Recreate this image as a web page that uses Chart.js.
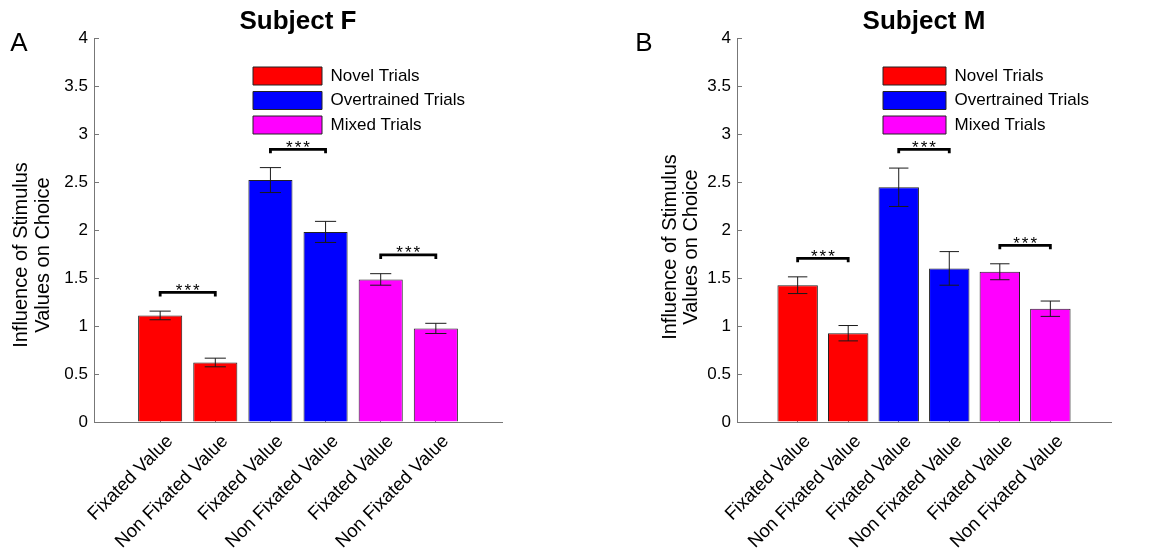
<!DOCTYPE html>
<html>
<head>
<meta charset="utf-8">
<script src="https://cdn.jsdelivr.net/npm/chart.js@4.4.1/dist/chart.umd.min.js"></script>
<style>
  body { margin: 0; background: #fff; }
  canvas { position: absolute; top: 0; }
</style>
</head>
<body>
<canvas id="chartF" width="575" height="553" style="left:0"></canvas>
<canvas id="chartM" width="576" height="553" style="left:575px"></canvas>
<script>
const categories = ['Fixated Value', 'Non Fixated Value', 'Fixated Value', 'Non Fixated Value', 'Fixated Value', 'Non Fixated Value']
const positions = [1, 2, 3, 4, 5, 6]
const groups = ['Novel Trials', 'Overtrained Trials', 'Mixed Trials']
const yTicks = [0, 0.5, 1, 1.5, 2, 2.5, 3, 3.5, 4]
const sigPairs = [[1, 2], [3, 4], [5, 6]]

// Subject F
const valuesF = [1.11, 0.62, 2.52, 1.98, 1.485, 0.975]
const errorsF = [0.045, 0.045, 0.13, 0.11, 0.06, 0.053]
const sigLevelsF = [1.35, 2.84, 1.74]

// Subject M
const valuesM = [1.425, 0.925, 2.445, 1.6, 1.565, 1.18]
const errorsM = [0.087, 0.08, 0.2, 0.175, 0.083, 0.08]
const sigLevelsM = [1.705, 2.84, 1.84]

const colors = ['#ff0000', '#0000ff', '#ff00ff']
const axisColor = '#777'
const family = '"Liberation Sans", Arial, sans-serif'

Chart.defaults.font.family = family
Chart.defaults.color = '#000'

const errorBars = {
  id: 'errorBars',
  afterDatasetsDraw(chart) {
    const { ctx } = chart
    const y = chart.scales.y
    ctx.save()
    ctx.strokeStyle = '#1a1a1a'
    ctx.lineWidth = 1
    chart.data.datasets.forEach((ds, d) => {
      chart.getDatasetMeta(d).data.forEach((bar, i) => {
        const v = ds.data[i].y, e = ds.errors[i]
        const top = y.getPixelForValue(v + e)
        const bot = y.getPixelForValue(v - e)
        const half = bar.width * 0.24
        ctx.beginPath()
        ctx.moveTo(bar.x, top); ctx.lineTo(bar.x, bot)
        ctx.moveTo(bar.x - half, top); ctx.lineTo(bar.x + half, top)
        ctx.moveTo(bar.x - half, bot); ctx.lineTo(bar.x + half, bot)
        ctx.stroke()
      })
    })
    ctx.restore()
  }
}

const brackets = {
  id: 'brackets',
  afterDatasetsDraw(chart, args, o) {
    const { ctx, scales: { x, y } } = chart
    ctx.save()
    ctx.strokeStyle = '#000'
    ctx.fillStyle = '#000'
    ctx.lineWidth = 2.8
    ctx.font = '17px ' + family
    ctx.letterSpacing = '2px'
    ctx.textAlign = 'center'
    ctx.textBaseline = 'alphabetic'
    o.pairs.forEach((p, i) => {
      const x1 = x.getPixelForValue(p[0])
      const x2 = x.getPixelForValue(p[1])
      const py = y.getPixelForValue(o.levels[i])
      ctx.beginPath()
      ctx.moveTo(x1, py + 4); ctx.lineTo(x1, py); ctx.lineTo(x2, py); ctx.lineTo(x2, py + 4)
      ctx.stroke()
      ctx.fillText('***', (x1 + x2) / 2 + 1, py + 3.5)
    })
    ctx.restore()
  }
}

const annotate = {
  id: 'annotate',
  afterLayout(chart, args, o) {
    chart.legend.left = o.legendX
    chart.legend.top = o.legendY
  },
  afterDraw(chart, args, o) {
    const { ctx } = chart
    ctx.save()
    ctx.fillStyle = '#000'
    ctx.textAlign = 'center'
    ctx.textBaseline = 'middle'
    ctx.font = '26px ' + family
    ctx.fillText(o.letter, o.letterX, o.letterY)
    ctx.font = '20px ' + family
    o.yTitle.forEach((line, i) => {
      ctx.save()
      ctx.translate(o.yTitleX[i], o.yTitleY)
      ctx.rotate(-Math.PI / 2)
      ctx.fillText(line, 0, 0)
      ctx.restore()
    })
    ctx.restore()
  }
}

const makeChart = (id, title, values, errors, levels, opt) => {
  const datasets = groups.map((g, k) => ({
    label: g,
    data: [0, 1].map(j => ({ x: positions[2 * k + j], y: values[2 * k + j] })),
    errors: [errors[2 * k], errors[2 * k + 1]],
    backgroundColor: colors[k],
    borderColor: '#222',
    borderWidth: 1,
    grouped: false,
    barPercentage: 0.8,
    categoryPercentage: 1,
  }))
  return new Chart(document.getElementById(id), {
    type: 'bar',
    data: { datasets },
    plugins: [errorBars, brackets, annotate],
    options: {
      responsive: false,
      animation: false,
      events: [],
      layout: { padding: { left: 0, right: opt.padRight, top: 0, bottom: 0 } },
      scales: {
        x: {
          type: 'linear',
          min: -0.2,
          max: 7.2,
          offset: false,
          z: 1,
          afterBuildTicks: s => { s.ticks = positions.map(v => ({ value: v })) },
          afterFit: s => { s.height = 131 },
          ticks: {
            autoSkip: false,
            minRotation: 45,
            maxRotation: 45,
            padding: 13.5,
            labelOffset: 10,
            color: '#000',
            font: { size: 18.5 },
            callback: v => categories[positions.indexOf(v)],
          },
          grid: { offset: false, drawOnChartArea: false, drawTicks: true, tickLength: -5, color: axisColor },
          border: { color: axisColor, width: 1 },
        },
        y: {
          min: 0,
          max: 4,
          afterBuildTicks: s => { s.ticks = yTicks.map(v => ({ value: v })) },
          afterFit: s => { s.width = opt.yWidth },
          ticks: { padding: 11, color: '#000', font: { size: 17 }, callback: v => String(v) },
          grid: { drawOnChartArea: false, drawTicks: true, tickLength: -5, color: axisColor },
          border: { color: axisColor, width: 1 },
        },
      },
      plugins: {
        tooltip: { enabled: false },
        title: {
          display: true,
          text: title,
          fullSize: false,
          color: '#000',
          font: { size: 26, weight: 'bold', lineHeight: 1.2 },
          padding: { top: 6.5, bottom: 0.3 },
        },
        legend: {
          position: 'chartArea',
          align: 'start',
          labels: {
            boxWidth: opt.boxWidth,
            boxHeight: 18,
            padding: 6.5,
            color: '#000',
            font: { size: 17 },
          },
        },
        brackets: { pairs: sigPairs, levels },
        annotate: {
          letter: opt.letter,
          letterX: opt.letterX,
          letterY: 44,
          yTitle: ['Influence of Stimulus', 'Values on Choice'],
          yTitleX: opt.yTitleX,
          yTitleY: opt.yTitleY,
          legendX: opt.legendX,
          legendY: 60.5,
        },
      },
    },
  })
}

makeChart('chartF', 'Subject F', valuesF, errorsF, sigLevelsF, {
  padRight: 73, yWidth: 94, boxWidth: 69, letter: 'A', letterX: 19,
  yTitleX: [21, 43], yTitleY: 255, legendX: 246.5,
})
makeChart('chartM', 'Subject M', valuesM, errorsM, sigLevelsM, {
  padRight: 40, yWidth: 162, boxWidth: 63, letter: 'B', letterX: 69,
  yTitleX: [95, 116], yTitleY: 247, legendX: 301.5,
})
</script>
</body>
</html>
